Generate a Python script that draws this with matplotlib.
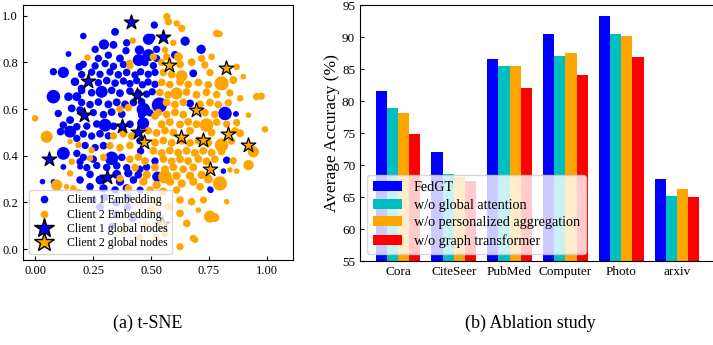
import matplotlib
matplotlib.use("Agg")
import matplotlib.pyplot as plt
from matplotlib.lines import Line2D
import numpy as np

plt.rcParams['font.family'] = ['Liberation Serif', 'DejaVu Serif']
plt.rcParams['mathtext.fontset'] = 'stix'

# ---------------- t-SNE data (x, y, marker size) ----------------
c1_points = [
    # upper part
    (0.514,0.96,28),(0.208,0.913,22),(0.345,0.931,32),(0.297,0.877,55),(0.338,0.875,32),(0.395,0.884,28),
    (0.489,0.899,65),(0.259,0.856,28),(0.316,0.831,28),(0.392,0.85,28),(0.45,0.853,45),(0.489,0.831,75),
    (0.524,0.856,28),(0.144,0.836,18),(0.273,0.817,28),(0.366,0.817,32),(0.447,0.81,75),(0.483,0.821,28),
    (0.647,0.891,45),(0.716,0.856,45),(0.503,0.907,28),(0.603,0.832,32),(0.524,0.817,28),
    # left edge
    (0.122,0.757,65),(0.191,0.781,32),(0.079,0.76,28),(0.172,0.717,38),(0.079,0.653,95),(0.144,0.653,38),
    (0.18,0.653,42),(0.2,0.688,30),(0.158,0.603,32),(0.194,0.596,30),(0.1,0.581,28),(0.151,0.553,32),
    (0.122,0.531,30),(0.18,0.524,30),(0.151,0.503,75),(0.11,0.503,30),(0.122,0.41,85),(0.18,0.474,28),
    (0.18,0.41,28),(0.194,0.374,28),(0.194,0.353,18),(0.122,0.352,18),(0.079,0.288,16),(0.032,0.289,16),
    # dense middle
    (0.208,0.792,28),(0.259,0.785,28),(0.302,0.795,28),(0.338,0.783,28),(0.381,0.791,28),(0.474,0.799,28),(0.51,0.786,28),
    (0.201,0.748,28),(0.244,0.758,28),(0.28,0.749,28),(0.323,0.759,28),(0.359,0.747,30),(0.395,0.757,30),(0.431,0.746,28),
    (0.455,0.76,28),(0.488,0.749,28),(0.517,0.757,28),(0.682,0.753,32),
    (0.273,0.713,28),(0.309,0.722,30),(0.345,0.711,30),(0.381,0.72,28),(0.409,0.709,28),(0.438,0.722,28),
    (0.463,0.704,28),(0.487,0.716,28),(0.517,0.706,28),
    (0.201,0.679,28),(0.244,0.67,30),(0.287,0.674,75),(0.33,0.68,30),(0.366,0.668,32),(0.409,0.677,30),(0.445,0.669,28),
    (0.481,0.664,28),(0.505,0.674,28),
    (0.201,0.628,28),(0.237,0.619,30),(0.273,0.63,30),(0.316,0.62,32),(0.352,0.629,32),(0.388,0.62,32),(0.424,0.628,30),
    (0.459,0.631,30),(0.536,0.617,120),(0.668,0.624,32),(0.467,0.598,95),
    (0.251,0.585,28),(0.295,0.576,30),(0.33,0.587,32),(0.374,0.578,30),(0.459,0.574,28),(0.495,0.584,28),
    (0.819,0.581,95),(0.866,0.579,18),
    (0.223,0.527,28),(0.266,0.536,30),(0.302,0.531,85),(0.338,0.526,30),(0.409,0.535,30),(0.466,0.539,75),
    (0.208,0.493,28),(0.244,0.484,28),(0.28,0.494,30),(0.316,0.485,28),
    (0.216,0.444,28),(0.259,0.435,28),(0.295,0.443,30),(0.452,0.464,28),(0.455,0.42,28),
    (0.208,0.393,28),(0.251,0.385,28),(0.33,0.389,95),(0.374,0.393,30),(0.517,0.377,28),(0.826,0.381,28),
    (0.223,0.349,28),(0.266,0.358,28),(0.309,0.35,30),(0.352,0.357,30),(0.395,0.349,28),(0.452,0.342,28),(0.481,0.351,28),
    # lower part
    (0.237,0.32,30),(0.28,0.296,42),(0.352,0.32,42),(0.402,0.325,36),(0.445,0.318,30),(0.194,0.296,30),
    (0.366,0.289,36),(0.424,0.296,30),(0.757,0.253,20),(0.237,0.267,30),(0.295,0.26,36),(0.345,0.253,30),
    (0.395,0.26,36),(0.453,0.253,26),(0.3,0.22,30),(0.35,0.2,36),(0.4,0.18,30),(0.35,0.15,30),(0.42,0.13,26),
    (0.28,0.18,30),(0.25,0.21,26),(0.33,0.1,20),(0.4,0.22,30),(0.812,0.334,16),(0.754,0.257,16),(0.527,0.31,55),
]
c2_points = [
    # top
    (0.568,0.996,28),(0.575,0.974,28),(0.611,0.967,22),(0.632,0.946,28),(0.421,0.893,22),(0.596,0.884,22),
    (0.783,0.924,28),(0.795,0.922,22),(0.407,0.798,22),(0.51,0.824,28),(0.56,0.853,22),(0.568,0.824,28),
    (0.618,0.824,42),(0.718,0.817,28),(0.761,0.824,22),(0.869,0.781,22),(0.226,0.821,22),
    # right edge
    (0.898,0.739,16),(0.955,0.653,28),(0.975,0.655,28),(0.884,0.646,22),(0.92,0.574,16),(0.991,0.513,22),
    (0.884,0.496,32),(0.941,0.417,65),(0.92,0.36,55),(0.855,0.724,32),
    # left edge
    (0.0,0.56,22),(0.05,0.481,75),(0.151,0.46,16),(0.158,0.374,22),(0.187,0.446,22),(0.244,0.424,22),(0.237,0.389,22),
    # dense middle
    (0.409,0.785,28),(0.546,0.8,28),(0.625,0.792,32),(0.675,0.801,32),(0.732,0.789,28),
    (0.553,0.757,30),(0.589,0.748,32),(0.632,0.742,70),(0.754,0.756,28),
    (0.546,0.714,30),(0.581,0.705,30),(0.625,0.716,32),(0.66,0.705,32),(0.704,0.714,32),(0.747,0.704,30),(0.804,0.71,105),
    (0.538,0.671,30),(0.574,0.661,32),(0.61,0.667,75),(0.653,0.673,32),(0.696,0.661,32),(0.739,0.672,32),(0.783,0.662,30),(0.84,0.669,28),
    (0.567,0.628,32),(0.603,0.619,32),(0.639,0.629,32),(0.711,0.62,32),(0.754,0.628,32),(0.79,0.619,30),(0.833,0.627,28),
    (0.366,0.6,28),(0.402,0.606,30),(0.517,0.57,30),
    (0.531,0.585,30),(0.567,0.577,32),(0.603,0.586,32),(0.639,0.576,32),(0.732,0.585,32),(0.775,0.577,30),
    (0.546,0.535,32),(0.581,0.544,32),(0.625,0.534,32),(0.66,0.545,32),(0.696,0.535,32),(0.739,0.531,95),(0.783,0.544,30),(0.826,0.535,28),(0.869,0.542,28),
    (0.338,0.485,28),(0.381,0.494,30),(0.417,0.484,30),
    (0.488,0.507,30),(0.524,0.498,32),(0.56,0.508,32),(0.596,0.499,32),(0.668,0.507,32),(0.761,0.499,32),(0.862,0.507,28),
    (0.323,0.443,28),(0.366,0.434,30),(0.409,0.444,30),
    (0.517,0.456,32),(0.553,0.465,32),(0.589,0.455,32),(0.632,0.464,32),(0.668,0.455,32),(0.704,0.465,32),(0.747,0.455,32),(0.804,0.445,95),(0.847,0.463,30),
    (0.51,0.421,32),(0.546,0.412,32),(0.581,0.422,32),(0.617,0.413,32),(0.653,0.421,32),(0.689,0.412,32),(0.725,0.421,32),(0.761,0.413,32),(0.804,0.418,30),
    (0.295,0.393,28),(0.409,0.385,30),(0.445,0.394,30),
    (0.474,0.377,32),(0.553,0.386,32),(0.589,0.376,32),(0.625,0.385,32),(0.66,0.377,32),(0.704,0.386,32),(0.739,0.376,32),(0.775,0.385,30),(0.854,0.378,28),
    (0.431,0.349,30),(0.517,0.35,32),(0.56,0.342,32),(0.596,0.351,32),(0.639,0.342,32),(0.682,0.35,32),
    # lower part
    (0.84,0.339,16),(0.151,0.324,22),(0.366,0.303,28),(0.402,0.26,28),(0.165,0.26,22),
    (0.481,0.318,36),(0.56,0.31,95),(0.61,0.314,36),(0.668,0.314,36),(0.718,0.318,36),(0.747,0.3,42),(0.869,0.334,16),
    (0.093,0.274,65),(0.136,0.267,16),(0.467,0.289,36),(0.524,0.274,36),(0.582,0.289,36),(0.632,0.281,36),
    (0.682,0.289,36),(0.797,0.281,105),(0.711,0.267,30),(0.496,0.253,30),(0.553,0.246,36),(0.61,0.253,30),
    (0.187,0.246,16),(0.625,0.21,30),(0.675,0.203,30),(0.726,0.21,26),(0.826,0.203,16),(0.575,0.181,30),
    (0.704,0.167,16),(0.625,0.153,30),(0.754,0.139,75),(0.775,0.135,42),(0.654,0.11,30),(0.682,0.046,26),
    (0.69,0.04,22),(0.625,0.01,26),(0.56,0.067,30),(0.45,0.2,30),(0.5,0.17,30),(0.48,0.1,26),(0.52,0.05,26),
    (0.38,0.08,22),(0.45,0.05,22),(0.52,0.2,30),
]
c1_star_x = [0.412, 0.55, 0.23, 0.438, 0.213, 0.376, 0.445, 0.059, 0.309]
c1_star_y = [0.971, 0.91, 0.721, 0.66, 0.574, 0.529, 0.503, 0.384, 0.31]
c2_star_x = [0.578, 0.823, 0.693, 0.628, 0.722, 0.83, 0.92, 0.471, 0.754, 0.549]
c2_star_y = [0.789, 0.774, 0.596, 0.481, 0.467, 0.493, 0.446, 0.457, 0.341, 0.107]

# ---------------- ablation data ----------------
datasets = ['Cora', 'CiteSeer', 'PubMed', 'Computer', 'Photo', 'arxiv']
variants = ['FedGT', 'w/o global attention', 'w/o personalized aggregation', 'w/o graph transformer']
acc_fedgt = [81.5, 72.0, 86.6, 90.5, 93.3, 67.8]
acc_no_global_att = [78.9, 68.6, 85.4, 87.1, 90.4, 65.2]
acc_no_pers_agg = [78.2, 68.1, 85.5, 87.5, 90.2, 66.2]
acc_no_gt = [74.8, 67.5, 82.1, 84.1, 86.9, 65.0]
bar_colors = ['#0000ff', '#00bfbf', '#ffa500', '#ff0000']

W, H = 713, 345
fig = plt.figure(figsize=(W / 100, H / 100), dpi=100)

# ---- t-SNE panel ----
ax1 = fig.add_axes([23 / W, 1 - 260 / H, 270 / W, 255 / H])
c1 = np.array(c1_points)
c2 = np.array(c2_points)
ax1.scatter(c1[:, 0], c1[:, 1], s=c1[:, 2], color='#0000ff', linewidths=0, zorder=2)
ax1.scatter(c2[:, 0], c2[:, 1], s=c2[:, 2], color='#ffa500', linewidths=0, zorder=2)
ax1.scatter(c1_star_x, c1_star_y, s=120, marker='*', color='#0000ff', edgecolors='black', linewidths=0.9, zorder=3)
ax1.scatter(c2_star_x, c2_star_y, s=120, marker='*', color='#ffa500', edgecolors='black', linewidths=0.9, zorder=3)
ax1.set_xlim(-0.052, 1.112)
ax1.set_ylim(-0.047, 1.046)
ax1.set_xticks([0.0, 0.25, 0.5, 0.75, 1.0])
ax1.set_xticklabels(['0.00', '0.25', '0.50', '0.75', '1.00'])
ax1.set_yticks([0.0, 0.2, 0.4, 0.6, 0.8, 1.0])
ax1.set_yticklabels(['0.0', '0.2', '0.4', '0.6', '0.8', '1.0'])
ax1.tick_params(direction='in', labelsize=9, length=3)
handles = [
    Line2D([], [], linestyle='none', marker='o', markersize=4.5, color='#0000ff'),
    Line2D([], [], linestyle='none', marker='o', markersize=4.5, color='#ffa500'),
    Line2D([], [], linestyle='none', marker='*', markersize=15, markerfacecolor='#0000ff', markeredgecolor='black', markeredgewidth=1),
    Line2D([], [], linestyle='none', marker='*', markersize=15, markerfacecolor='#ffa500', markeredgecolor='black', markeredgewidth=1),
]
ax1.legend(handles, ['Client 1 Embedding', 'Client 2 Embedding', 'Client 1 global nodes', 'Client 2 global nodes'],
           loc='lower left', fontsize=8.5, handlelength=1.8, labelspacing=0.2, borderpad=0.4,
           handletextpad=1.0, framealpha=0.8, borderaxespad=0.5)

# ---- ablation panel ----
ax2 = fig.add_axes([360 / W, 1 - 261 / H, 355 / W, 256 / H])
x = np.arange(len(datasets))
series = [acc_fedgt, acc_no_global_att, acc_no_pers_agg, acc_no_gt]
width = 0.2
for i, (vals, lab, col) in enumerate(zip(series, variants, bar_colors)):
    ax2.bar(x + (i - 1.5) * width, vals, width, color=col, label=lab, zorder=2)
ax2.set_xlim(-0.68, 5.68)
ax2.set_ylim(55, 95)
ax2.set_yticks(range(55, 96, 5))
ax2.set_xticks(x)
ax2.set_xticklabels(datasets)
ax2.tick_params(direction='in', labelsize=9.5, length=3)
ax2.set_ylabel('Average Accuracy (%)', fontsize=12.5, labelpad=1)
ax2.legend(loc='lower left', fontsize=10.2, handlelength=2.0, labelspacing=0.32, borderpad=0.45,
           handletextpad=0.85, framealpha=0.8, borderaxespad=0.5)

# ---- captions ----
fig.text(148 / W, 1 - 323 / H, '(a) t-SNE', ha='center', va='center', fontsize=13)
fig.text(530 / W, 1 - 323 / H, '(b) Ablation study', ha='center', va='center', fontsize=13)

fig.savefig('out.png', dpi=100)
